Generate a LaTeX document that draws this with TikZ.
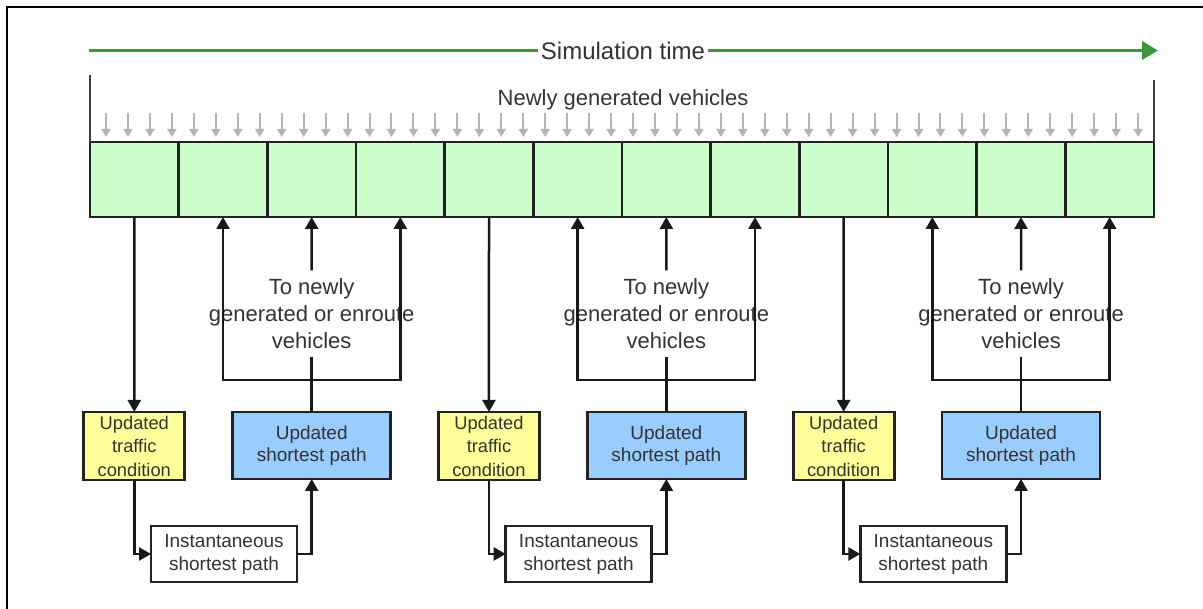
\documentclass[tikz,border=0pt]{standalone}
\usepackage{fontspec}
\setmainfont{Liberation Sans}
\usetikzlibrary{arrows.meta}

\definecolor{cellgreen}{HTML}{CCFFCC}
\definecolor{tcyellow}{HTML}{FFFF99}
\definecolor{spblue}{HTML}{99CCFF}
\definecolor{timegreen}{HTML}{3A9A3A}
\definecolor{txtgray}{HTML}{333333}
\definecolor{edgegray}{HTML}{222222}
\definecolor{feedgray}{HTML}{B4B4B4}

\begin{document}
\begin{tikzpicture}[x=1pt,y=-1pt,
  frame/.style={line width=2.5pt,draw=black},
  timeline/.style={line width=3.5pt,draw=timegreen,-{Triangle[length=16pt,width=18pt]}},
  timelabel/.style={fill=white,inner xsep=3pt,inner ysep=2pt,text=txtgray,
    font=\fontsize{24}{28}\selectfont},
  endline/.style={line width=2.5pt,draw=black!75},
  feed/.style={line width=2pt,draw=feedgray,-{Triangle[length=8pt,width=9pt]}},
  newtxt/.style={text=txtgray,font=\fontsize{22}{26}\selectfont,inner sep=0pt},
  cell/.style={draw=edgegray,line width=2.8pt,fill=cellgreen,
    minimum width=88.667pt,minimum height=75pt,inner sep=0pt,outer sep=0pt},
  tcbox/.style={draw=edgegray,line width=2.8pt,fill=tcyellow,
    minimum width=101pt,minimum height=68pt,inner sep=0pt,outer sep=0pt,
    align=center,text=txtgray,font=\fontsize{18.3}{23.5}\selectfont},
  spbox/.style={draw=edgegray,line width=2.8pt,fill=spblue,
    minimum width=158pt,minimum height=67pt,inner sep=0pt,outer sep=0pt,
    align=center,text=txtgray,font=\fontsize{19}{22}\selectfont},
  isbox/.style={draw=edgegray,line width=2.8pt,fill=white,
    minimum width=146pt,minimum height=56pt,inner sep=0pt,outer sep=0pt,
    align=center,text=txtgray,font=\fontsize{19}{23}\selectfont},
  totxt/.style={align=center,text=txtgray,inner sep=8pt,outer sep=0pt,
    font=\fontsize{22}{27}\selectfont},
  conn/.style={line width=2.5pt,draw=black!90,-{Triangle[length=12pt,width=13pt]}},
  plain/.style={line width=2.5pt,draw=black!90}
]
\useasboundingbox (0,0) rectangle (1203,609);

% outer frame (left and top edges)
\draw[frame] (7,609) -- (7,7) -- (1203,7);

% row of simulation intervals
\foreach \k in {1,...,12}
  \node[cell] (c\k) at ({90+(\k-0.5)*88.667},179.5) {};

% simulation time axis
\coordinate (ts) at (89,50.5);
\coordinate (te) at (1158,50.5);
\draw[timeline] (ts) -- (te);
\node[timelabel] (simt) at (623,50.5) {Simulation time};

% end markers of the time span
\coordinate (vl) at (c1.north west |- 0,75);
\coordinate (vr) at (c12.north east |- 0,80);
\draw[endline] (vl) -- (c1.north west);
\draw[endline] (vr) -- (c12.north east);

% newly generated vehicles entering the network
\node[newtxt] (newv) at (623,100) {Newly generated vehicles};
\foreach \i in {0,...,47}
  \draw[feed] ({106+\i*21.96},113) -- ({106+\i*21.96},137);

% three update cycles, each spanning four intervals
\foreach \g in {0,1,2}{
  \pgfmathsetmacro\off{\g*354.667}
  \pgfmathtruncatemacro\ca{4*\g+1}
  \pgfmathtruncatemacro\cb{4*\g+2}
  \pgfmathtruncatemacro\cc{4*\g+3}
  \pgfmathtruncatemacro\cd{4*\g+4}
  \node[tcbox] (y\g) at ({134.3+\off},446) {Updated\\traffic\\condition};
  \node[spbox] (b\g) at ({311.7+\off},445.5) {Updated\\shortest path};
  \node[isbox] (i\g) at ({224+\off},554) {Instantaneous\\shortest path};
  \node[totxt] (t\g) at ({311.7+\off},313.5) {To newly\\generated or enroute\\vehicles};
  \coordinate (j\g) at ({311.7+\off},380);
  \draw[conn] (c\ca.south) -- (y\g.north);
  \draw[conn] (y\g.south) |- (i\g.west);
  \draw[conn] (i\g.east) -| (b\g.south);
  \draw[plain] (b\g.north) -- (j\g);
  \draw[conn] (j\g) -| (c\cb.south);
  \draw[conn] (j\g) -| (c\cd.south);
  \draw[plain] (j\g) -- (t\g.south);
  \draw[conn] (t\g.north) -- (c\cc.south);
}
\end{tikzpicture}
\end{document}
